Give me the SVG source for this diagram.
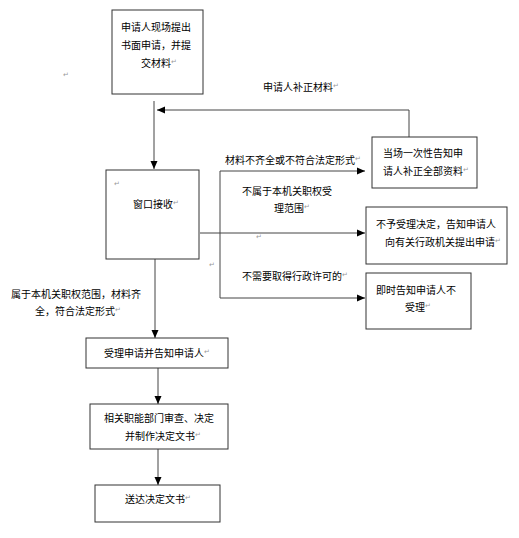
<svg xmlns="http://www.w3.org/2000/svg" width="519" height="538" viewBox="0 0 519 538">
<defs>
<marker id="ah" markerUnits="userSpaceOnUse" markerWidth="8" markerHeight="8" viewBox="0 0 8 8" refX="8" refY="4" orient="auto">
<path d="M0,0.5 L8,4 L0,7.5 Z" fill="#000"/>
</marker>
<style>
.box{fill:#fff;stroke:#333;stroke-width:1}
.ln{fill:none;stroke:#444;stroke-width:1}
text{font-family:"Noto Sans CJK SC","Noto Sans",sans-serif;font-size:10px;fill:#000;dominant-baseline:central}
.pm{font-family:"DejaVu Sans",sans-serif;font-size:7px;fill:#999}
</style>
</defs>
<rect width="519" height="538" fill="#fff"/>
<g id="connectors">
<line class="ln" x1="154" y1="101" x2="154" y2="169" marker-end="url(#ah)"/>
<polyline class="ln" points="409,137 409,110 157,110" marker-end="url(#ah)"/>
<line class="ln" x1="220" y1="171" x2="220" y2="298"/>
<line class="ln" x1="220" y1="171" x2="365" y2="171" marker-end="url(#ah)"/>
<line class="ln" x1="200" y1="233" x2="365" y2="233" marker-end="url(#ah)"/>
<line class="ln" x1="220" y1="298" x2="365" y2="298" marker-end="url(#ah)"/>
<line class="ln" x1="155" y1="259" x2="155" y2="338" marker-end="url(#ah)"/>
<line class="ln" x1="158" y1="368" x2="158" y2="404" marker-end="url(#ah)"/>
<line class="ln" x1="158" y1="449" x2="158" y2="485" marker-end="url(#ah)"/>
<text x="263" y="86">申请人补正材料<tspan class="pm">↵</tspan></text>
<text x="225" y="159">材料不齐全或不符合法定形式<tspan class="pm">↵</tspan></text>
<text x="242" y="190">不属于本机关职权受</text>
<text x="274" y="207">理范围<tspan class="pm">↵</tspan></text>
<text x="242" y="275">不需要取得行政许可的<tspan class="pm">↵</tspan></text>
<text x="11" y="293">属于本机关职权范围，材料齐</text>
<text x="35" y="310">全，符合法定形式<tspan class="pm">↵</tspan></text>
<text class="pm" x="63" y="75">↵</text>
<text class="pm" x="256" y="237">↵</text>
<text class="pm" x="209" y="265">↵</text>
</g>
<g id="n1">
<rect class="box" x="112" y="10" width="91" height="84"/>
<text x="121" y="26">申请人现场提出</text>
<text x="121" y="44">书面申请，并提</text>
<text x="141" y="62">交材料<tspan class="pm">↵</tspan></text>
</g>
<g id="n2">
<rect class="box" x="372" y="137" width="105" height="51"/>
<text x="383" y="152">当场一次性告知申</text>
<text x="383" y="170">请人补正全部资料<tspan class="pm">↵</tspan></text>
</g>
<g id="n3">
<rect class="box" x="106" y="170" width="93" height="89"/>
<text class="pm" x="114" y="184">↵</text>
<text x="133" y="203">窗口接收<tspan class="pm">↵</tspan></text>
</g>
<g id="n4">
<rect class="box" x="366" y="207" width="141" height="57"/>
<text x="376" y="223">不予受理决定，告知申请人</text>
<text x="385" y="241">向有关行政机关提出申请<tspan class="pm">↵</tspan></text>
</g>
<g id="n5">
<rect class="box" x="366" y="273" width="105" height="56"/>
<text x="376" y="289">即时告知申请人不</text>
<text x="405" y="306">受理<tspan class="pm">↵</tspan></text>
</g>
<g id="n6">
<rect class="box" x="86" y="338" width="142" height="30"/>
<text x="104" y="352">受理申请并告知申请人<tspan class="pm">↵</tspan></text>
</g>
<g id="n7">
<rect class="box" x="90" y="404" width="138" height="45"/>
<text x="104" y="417">相关职能部门审查、决定</text>
<text x="125" y="435">并制作决定文书<tspan class="pm">↵</tspan></text>
</g>
<g id="n8">
<rect class="box" x="95" y="485" width="125" height="37"/>
<text x="125" y="498">送达决定文书<tspan class="pm">↵</tspan></text>
</g>
</svg>
